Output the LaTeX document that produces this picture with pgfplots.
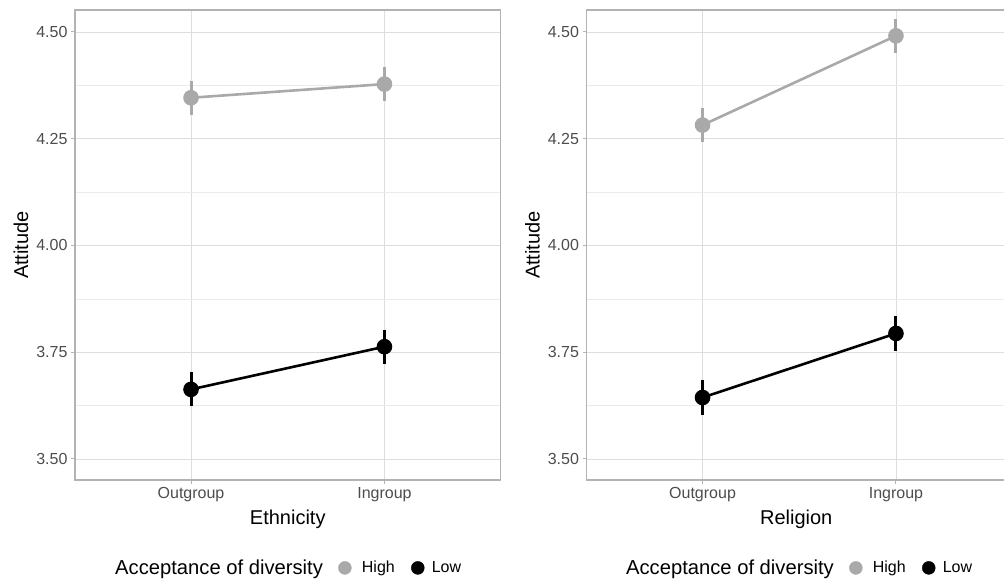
\documentclass[border=0pt]{standalone}
\usepackage{fontspec}
\setmainfont{Liberation Sans}
\usepackage{pgfplots}
\pgfplotsset{compat=1.18}
\definecolor{hi}{HTML}{A9A9A9}
\definecolor{lo}{HTML}{000000}
\definecolor{tickc}{HTML}{4D4D4D}
\definecolor{bordc}{HTML}{B3B3B3}
\definecolor{gmaj}{HTML}{DEDEDE}
\definecolor{gmin}{HTML}{EBEBEB}
\pgfplotsset{
  panel/.style={
    scale only axis, height=470bp,
    xmin=0.4, ymin=3.4508, ymax=4.5515,
    xtick={1,2}, xticklabels={Outgroup,Ingroup},
    ytick={3.5,3.75,4,4.25,4.5},
    minor ytick={3.625,3.875,4.125,4.375},
    grid=both,
    major grid style={gmaj, line width=0.8bp},
    minor grid style={gmin, line width=0.5bp},
    tick align=outside, tick pos=left,
    major tick length=4bp, minor tick length=0pt,
    tick style={bordc, line width=1bp},
    axis line style={bordc, line width=1.2bp},
    /pgf/number format/assume math mode=true,
    yticklabel style={/pgf/number format/fixed, /pgf/number format/fixed zerofill, /pgf/number format/precision=2, font=\fontsize{16bp}{19bp}\selectfont, text=tickc},
    xticklabel style={font=\fontsize{16bp}{19bp}\selectfont, text=tickc},
    label style={font=\fontsize{20bp}{24bp}\selectfont},
    xlabel style={at={(axis description cs:0.5,-0.083)}, anchor=center},
    legend style={draw=none, fill=none, inner sep=0pt, legend columns=-1,
      font=\fontsize{16bp}{19bp}\selectfont, /tikz/column sep=0pt,
      nodes={inner xsep=0pt, inner ysep=2bp}, anchor=west,
      at={(axis description cs:0.094,-0.187)}},
    legend cell align=left,
    clip=false,
  },
  ser/.style={color=#1, line width=2.6bp, mark=*, mark size=6.5bp, mark options={solid, fill=#1},
    error bars/y dir=both, error bars/y explicit, error bars/error mark=none,
    error bars/error bar style={line width=3bp, color=#1}},
}
\begin{document}
\begin{tikzpicture}
\useasboundingbox (0,0) rectangle (1004bp,583bp);
% Left panel: Ethnicity
\begin{axis}[panel, at={(75bp,103bp)}, anchor=south west, width=425.5bp, xmax=2.6,
  xlabel={Ethnicity}, ylabel={Attitude},
  ylabel style={at={(axis description cs:-0.1269,0.5)}, anchor=center}]
\addplot[forget plot, ser=hi] coordinates {(1,4.346) +- (0,0.04) (2,4.378) +- (0,0.04)};
\addplot[forget plot, ser=lo] coordinates {(1,3.663) +- (0,0.04) (2,3.763) +- (0,0.04)};
\addlegendimage{empty legend}
\addlegendentry{\fontsize{20.2bp}{24bp}\selectfont Acceptance of diversity}
\addlegendimage{legend image code/.code={\path[draw=none] (0bp,0bp) (39bp,0bp); \draw[hi, mark=*, mark size=6.5bp, mark options={fill=hi}] plot coordinates {(22bp,0bp)};}}
\addlegendentry{High}
\addlegendimage{legend image code/.code={\path[draw=none] (0bp,0bp) (37bp,0bp); \draw[lo, mark=*, mark size=6.5bp, mark options={fill=lo}] plot coordinates {(23bp,0bp)};}}
\addlegendentry{Low}
\end{axis}
% Right panel: Religion
\begin{axis}[panel, at={(586.5bp,103bp)}, anchor=south west, width=419.5bp, xmax=2.569,
  xlabel={Religion}, ylabel={Attitude},
  ylabel style={at={(axis description cs:-0.1287,0.5)}, anchor=center}]
\addplot[forget plot, ser=hi] coordinates {(1,4.282) +- (0,0.04) (2,4.491) +- (0,0.04)};
\addplot[forget plot, ser=lo] coordinates {(1,3.644) +- (0,0.04) (2,3.794) +- (0,0.04)};
\addlegendimage{empty legend}
\addlegendentry{\fontsize{20.2bp}{24bp}\selectfont Acceptance of diversity}
\addlegendimage{legend image code/.code={\path[draw=none] (0bp,0bp) (39bp,0bp); \draw[hi, mark=*, mark size=6.5bp, mark options={fill=hi}] plot coordinates {(22bp,0bp)};}}
\addlegendentry{High}
\addlegendimage{legend image code/.code={\path[draw=none] (0bp,0bp) (37bp,0bp); \draw[lo, mark=*, mark size=6.5bp, mark options={fill=lo}] plot coordinates {(23bp,0bp)};}}
\addlegendentry{Low}
\end{axis}
\end{tikzpicture}
\end{document}
